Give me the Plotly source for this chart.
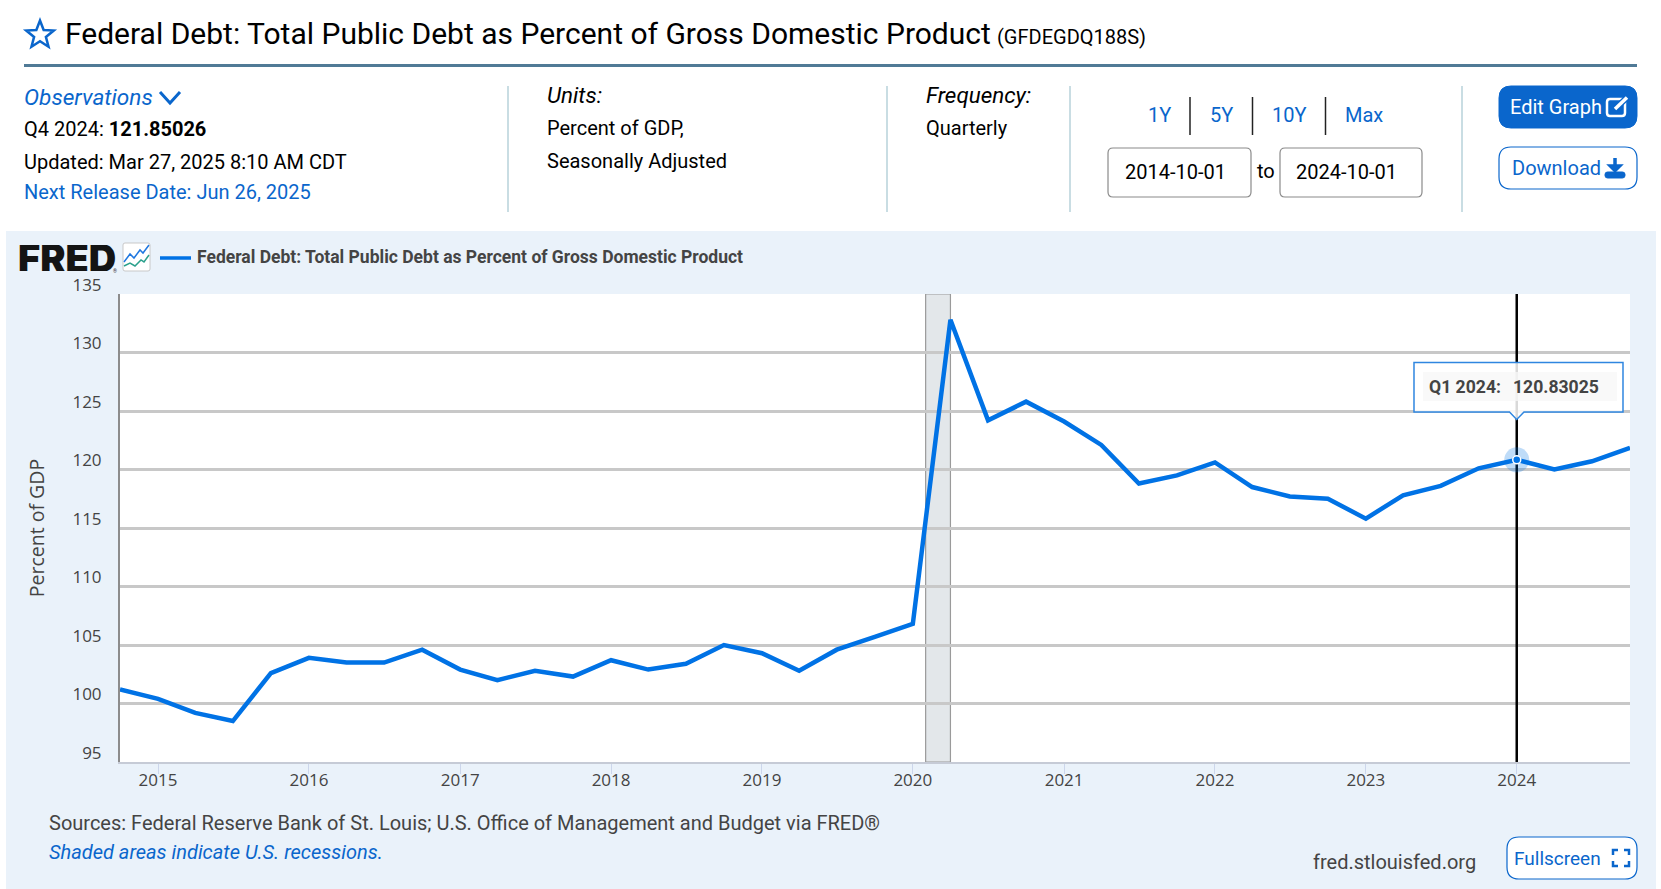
import math
import plotly.graph_objects as go

W, H = 1661, 889
BLUE = "#0a66cc"
LINE_BLUE = "#0072e5"
GREY_TXT = "#444444"

# quarterly observations
dates = [
    "2014-10-01", "2015-01-01", "2015-04-01", "2015-07-01", "2015-10-01",
    "2016-01-01", "2016-04-01", "2016-07-01", "2016-10-01",
    "2017-01-01", "2017-04-01", "2017-07-01", "2017-10-01",
    "2018-01-01", "2018-04-01", "2018-07-01", "2018-10-01",
    "2019-01-01", "2019-04-01", "2019-07-01", "2019-10-01",
    "2020-01-01", "2020-04-01", "2020-07-01", "2020-10-01",
    "2021-01-01", "2021-04-01", "2021-07-01", "2021-10-01",
    "2022-01-01", "2022-04-01", "2022-07-01", "2022-10-01",
    "2023-01-01", "2023-04-01", "2023-07-01", "2023-10-01",
    "2024-01-01", "2024-04-01", "2024-07-01", "2024-10-01",
]
debt = [
    101.2, 100.4, 99.2, 98.5, 102.6,
    103.9, 103.5, 103.5, 104.6,
    102.9, 102.0, 102.8, 102.3,
    103.7, 102.9, 103.4, 105.0,
    104.3, 102.8, 104.6, 105.7,
    106.8, 132.8, 124.2, 125.8,
    124.1, 122.1, 118.8, 119.5,
    120.6, 118.5, 117.7, 117.5,
    115.8, 117.8, 118.6, 120.1,
    120.83025, 120.0, 120.7, 121.85026,
]
recession = ["2020-02-01", "2020-04-01"]
hover_date = "2024-01-01"
hover_value = 120.83025
y_ticks = [95, 100, 105, 110, 115, 120, 125, 130, 135]
x_ticks = ["2015-01-01", "2016-01-01", "2017-01-01", "2018-01-01", "2019-01-01",
           "2020-01-01", "2021-01-01", "2022-01-01", "2023-01-01", "2024-01-01"]
x_labels = ["2015", "2016", "2017", "2018", "2019", "2020", "2021", "2022", "2023", "2024"]

# plot box in page pixels
L, R, T, B = 120, 1630, 294, 762


def px(x):
    return x / W


def py(y):
    return 1 - y / H


def path(points, close=False):
    d = "M" + " L".join(f"{px(x):.5f},{py(y):.5f}" for x, y in points)
    return d + (" Z" if close else "")


def rrect(x0, y0, x1, y1, r):
    # rounded box as an svg path
    c = lambda x, y: f"{px(x):.5f},{py(y):.5f}"
    return (f"M{c(x0 + r, y0)} L{c(x1 - r, y0)} Q{c(x1, y0)} {c(x1, y0 + r)} "
            f"L{c(x1, y1 - r)} Q{c(x1, y1)} {c(x1 - r, y1)} L{c(x0 + r, y1)} "
            f"Q{c(x0, y1)} {c(x0, y1 - r)} L{c(x0, y0 + r)} Q{c(x0, y0)} {c(x0 + r, y0)} Z")


shapes = []
annots = []


def add_path(d, color=None, width=0, fill=None, layer="below"):
    shapes.append(dict(type="path", path=d, xref="paper", yref="paper", layer=layer,
                       fillcolor=fill or "rgba(0,0,0,0)",
                       line=dict(color=color or "rgba(0,0,0,0)", width=width)))


def box(x0, y0, x1, y1, fill, layer="below"):
    shapes.append(dict(type="rect", xref="paper", yref="paper", layer=layer,
                       x0=px(x0), x1=px(x1), y0=py(y0), y1=py(y1),
                       fillcolor=fill, line=dict(width=0)))


def seg(x0, y0, x1, y1, color, width):
    shapes.append(dict(type="line", xref="paper", yref="paper", layer="below",
                       x0=px(x0), x1=px(x1), y0=py(y0), y1=py(y1),
                       line=dict(color=color, width=width)))


def label(x, y, text, size=20, color="#000000", anchor="left", family="Roboto", weight=None, height=None):
    # annotations sit a little right of x, pull left text back
    xx = x - 1.5 if anchor == "left" else x
    font = dict(family=family, size=size, color=color)
    if weight:
        font["weight"] = weight
    ann = dict(xref="paper", yref="paper", x=px(xx), y=py(y), text=text,
               showarrow=False, xanchor=anchor, yanchor="middle", borderpad=0,
               font=font)
    if height:
        ann["height"] = height
    annots.append(ann)


# page header
star = []
for i in range(10):
    r = 14.5 if i % 2 == 0 else 6.2
    a = -math.pi / 2 + i * math.pi / 5
    star.append((40 + r * math.cos(a), 35 + r * math.sin(a)))
add_path(path(star, True), BLUE, 2.5)
label(65.7, 33, "Federal Debt: Total Public Debt as Percent of Gross Domestic Product", 30)
label(997, 37, "(GFDEGDQ188S)", 20)
seg(24, 65.5, 1637, 65.5, "#507a96", 3)

label(24.4, 97, "<i>Observations</i>", 22.6, BLUE)
add_path(path([(160, 92), (170, 103), (180, 92)]), BLUE, 3)
label(24.4, 129, "Q4 2024: <b>121.85026</b>")
label(24.4, 162, "Updated: Mar 27, 2025 8:10 AM CDT")
label(24.4, 192, "Next Release Date: Jun 26, 2025", color=BLUE)

for x in [508, 887, 1070, 1462]:
    seg(x, 86, x, 212, "#c9dde3", 2)

label(547, 95, "<i>Units:</i>", 22.4)
label(547, 128, "Percent of GDP,")
label(547, 161, "Seasonally Adjusted")
label(926.5, 95, "<i>Frequency:</i>", 22.4)
label(926.5, 128, "Quarterly")

for x, t in zip([1159, 1221, 1289, 1364], ["1Y", "5Y", "10Y", "Max"]):
    label(x, 115, t, 20, BLUE, "center")
for x in [1190, 1252.5, 1325.5]:
    seg(x, 97, x, 135, "#222222", 1.5)

add_path(rrect(1108, 148, 1251, 197, 5), "#8a8a8a", 1.2, "#ffffff")
add_path(rrect(1280, 148, 1422, 197, 5), "#8a8a8a", 1.2, "#ffffff")
label(1125, 172, "2014-10-01")
label(1257, 171, "to")
label(1296.4, 172, "2024-10-01")

add_path(rrect(1499, 86, 1637, 128, 12), BLUE, 1, BLUE)
label(1510.5, 107, "Edit Graph", color="#ffffff")
add_path(rrect(1607, 99, 1625, 116, 3), "#ffffff", 2.5)
add_path(path([(1615, 109), (1627, 97.5)]), BLUE, 6)
add_path(path([(1615, 109), (1627, 97.5)]), "#ffffff", 3.5)
add_path(rrect(1499, 147, 1637, 189, 12), BLUE, 1.2, "#ffffff")
label(1512, 168, "Download", color=BLUE)
add_path(path([(1615, 158), (1615, 170)]), BLUE, 3.5)
add_path(path([(1608, 165), (1615, 172), (1622, 165)], True), BLUE, 1.5, BLUE)
add_path(rrect(1605, 172, 1625, 178, 2.5), BLUE, 1, BLUE)

# chart panel
box(6, 231, 1656, H, "#eaf2fa")
box(L, T, R, B, "#ffffff")

label(18, 258, "FRED", 38, "#141414", family="Inter", weight=900, height=26)
label(114, 271, "®", 5, "#333333")
add_path(rrect(123, 243, 150, 271, 2), "#c8c8c8", 1, "#ffffff")
add_path(path([(124, 262), (130, 254), (134, 258), (140, 250), (143, 253), (149, 245)]), "#1f77e0", 1.5)
add_path(path([(124, 266), (130, 263), (135, 266), (141, 260), (144, 262), (149, 255)]), "#2aa08c", 1.5)
seg(160, 258, 191, 258, LINE_BLUE, 3.5)
label(197, 257, "<b>Federal Debt: Total Public Debt as Percent of Gross Domestic Product</b>",
      17.5, GREY_TXT)

label(49, 823, "Sources: Federal Reserve Bank of St. Louis; U.S. Office of Management and Budget via FRED®",
      color=GREY_TXT)
label(49, 852, "<i>Shaded areas indicate U.S. recessions.</i>", color=BLUE)
label(1313, 862, "fred.stlouisfed.org", color=GREY_TXT)
add_path(rrect(1507, 837, 1637, 879, 12), BLUE, 1.2, "#ffffff")
label(1514.5, 858, "Fullscreen", 19, BLUE)
for a, b, c in [((1613, 855), (1613, 850), (1618, 850)), ((1624, 850), (1629, 850), (1629, 855)),
                ((1629, 861), (1629, 866), (1624, 866)), ((1618, 866), (1613, 866), (1613, 861))]:
    add_path(path([a, b, c]), BLUE, 2.5)

# recession band and hover crosshair, tied to the data axes
shapes.append(dict(type="rect", xref="x", yref="y", layer="below",
                   x0=recession[0], x1=recession[1], y0=y_ticks[0], y1=y_ticks[-1],
                   fillcolor="#e3e7ea", line=dict(color="#9a9a9a", width=1.2)))
shapes.append(dict(type="line", xref="x", yref="y", layer="between",
                   x0=hover_date, x1=hover_date, y0=y_ticks[0], y1=y_ticks[-1],
                   line=dict(color="#000000", width=2.5)))

fig = go.Figure()
fig.add_trace(go.Scatter(x=dates, y=debt, mode="lines", hoverinfo="skip",
                         line=dict(color=LINE_BLUE, width=4.5)))
fig.add_trace(go.Scatter(x=[hover_date], y=[hover_value], mode="markers", hoverinfo="skip",
                         marker=dict(size=25, color="rgba(0,114,229,0.25)", line=dict(width=0))))
fig.add_trace(go.Scatter(x=[hover_date], y=[hover_value], mode="markers", hoverinfo="skip",
                         marker=dict(size=8, color=LINE_BLUE, line=dict(color="#ffffff", width=1.5))))

# tooltip
tip = path([(1414, 362.5), (1623, 362.5), (1623, 412), (1524, 412), (1516.7, 419.5),
            (1509.5, 412), (1414, 412)], True)
add_path(tip, "#2f86e0", 1.5, "rgba(255,255,255,0.85)", layer="above")
box(1423, 372, 1617, 401, "rgba(247,247,247,0.75)", layer="above")
label(1429, 387, "<b>Q1 2024:</b>", 17.6, GREY_TXT)
label(1513, 387, "<b>120.83025</b>", 17.6, GREY_TXT)

fig.update_layout(
    width=W, height=H, autosize=False,
    margin=dict(l=0, r=0, t=0, b=0, autoexpand=False),
    paper_bgcolor="#ffffff", plot_bgcolor="#ffffff",
    showlegend=False, shapes=shapes, annotations=annots,
    xaxis=dict(
        domain=[px(L), px(R)], type="date", range=[dates[0], dates[-1]],
        tickmode="array", tickvals=x_ticks, ticktext=x_labels,
        ticks="outside", ticklen=10, tickcolor="#ccd6eb", tickwidth=1,
        ticklabelstandoff=-8, automargin=False,
        tickfont=dict(family="Open Sans", size=17, color=GREY_TXT),
        showgrid=False, showline=True, linecolor="#c6cbd6", linewidth=2, zeroline=False,
    ),
    yaxis=dict(
        domain=[py(B), py(T)], range=[y_ticks[0], y_ticks[-1]],
        tickmode="array", tickvals=y_ticks,
        ticks="", ticklabelstandoff=13, ticklabelshift=-9, automargin=False,
        tickfont=dict(family="Open Sans", size=17, color=GREY_TXT),
        showgrid=True, gridcolor="#c8c8c8", gridwidth=2.5, zeroline=False,
        showline=True, linecolor="#8c8c8c", linewidth=2,
        title=dict(text="Percent of GDP", standoff=23,
                   font=dict(family="Open Sans", size=19.5, color=GREY_TXT)),
    ),
)

fig.write_html("out.html", config={"displayModeBar": False},
               post_script="document.body.style.margin='0';document.body.style.overflow='hidden';")
